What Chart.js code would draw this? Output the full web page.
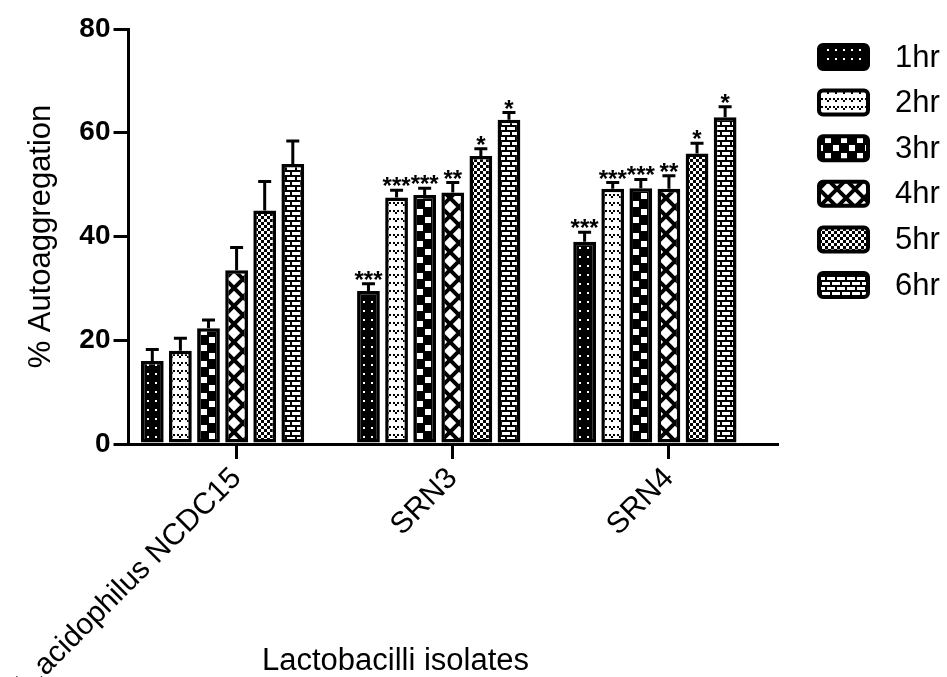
<!DOCTYPE html>
<html>
<head>
<meta charset="utf-8">
<title>Autoaggregation</title>
<script src="https://cdn.jsdelivr.net/npm/chart.js@4.4.1/dist/chart.umd.min.js"></script>
<style>
  html, body { margin: 0; padding: 0; background: #fff; }
  #wrap { width: 947px; height: 677px; }
</style>
</head>
<body>
<div id="wrap"><canvas id="myChart"></canvas></div>
<script>
const isolates = ['L.acidophilus NCDC15', 'SRN3', 'SRN4'];
const hours = ['1hr', '2hr', '3hr', '4hr', '5hr', '6hr'];

// mean % autoaggregation for each isolate
const hr1 = [16.0, 29.5, 39.0];
const hr2 = [18.0, 47.5, 49.2];
const hr3 = [22.3, 48.0, 49.3];
const hr4 = [33.5, 48.5, 49.2];
const hr5 = [45.0, 55.5, 56.0];
const hr6 = [54.0, 62.5, 63.0];

// upper error bar (SEM)
const err1 = [2.2, 1.4, 1.8];
const err2 = [2.4, 1.4, 1.2];
const err3 = [1.6, 1.3, 1.7];
const err4 = [4.4, 1.9, 2.5];
const err5 = [5.6, 1.4, 2.0];
const err6 = [4.4, 1.4, 2.0];

// significance marks
const sig1 = ['', '***', '***'];
const sig2 = ['', '***', '***'];
const sig3 = ['', '***', '***'];
const sig4 = ['', '**', '**'];
const sig5 = ['', '*', '*'];
const sig6 = ['', '*', '*'];

const FONT = "'Liberation Sans', Arial, sans-serif";
Chart.defaults.font.family = FONT;
Chart.defaults.color = '#000';

function makePattern(w, h, paint) {
  const c = document.createElement('canvas');
  c.width = w;
  c.height = h;
  const g = c.getContext('2d');
  paint(g, w, h);
  return g.createPattern(c, 'repeat');
}

// black with white dots
const pat1 = makePattern(8, 9, (g, w, h) => {
  g.fillStyle = '#000'; g.fillRect(0, 0, w, h);
  g.fillStyle = '#fff'; g.fillRect(3, 4, 2, 2);
});
// white with small black chevrons
const pat2 = makePattern(8, 8, (g, w, h) => {
  g.fillStyle = '#fff'; g.fillRect(0, 0, w, h);
  g.fillStyle = '#000';
  g.fillRect(1, 2, 2, 2); g.fillRect(5, 2, 2, 2); g.fillRect(3, 4, 2, 2);
});
// large staggered blocks
const pat3 = makePattern(16, 16, (g, w, h) => {
  g.fillStyle = '#000'; g.fillRect(0, 0, w, h);
  g.fillStyle = '#fff';
  g.fillRect(1, 1, 6, 6); g.fillRect(9, 9, 6, 6);
});
// diagonal cross
const pat4 = makePattern(18, 18, (g, w, h) => {
  g.fillStyle = '#fff'; g.fillRect(0, 0, w, h);
  g.strokeStyle = '#000'; g.lineWidth = 4;
  for (let k = -1; k <= 1; k++) {
    g.beginPath();
    g.moveTo(k * w, 0); g.lineTo(k * w + w, h);
    g.moveTo(k * w + w, 0); g.lineTo(k * w, h);
    g.stroke();
  }
});
// fine checkerboard
const pat5 = makePattern(6, 6, (g, w, h) => {
  g.fillStyle = '#000'; g.fillRect(0, 0, w, h);
  g.fillStyle = '#fff';
  g.fillRect(0, 0, 3, 3); g.fillRect(3, 3, 3, 3);
});
// bricks
const pat6 = makePattern(10, 10, (g, w, h) => {
  g.fillStyle = '#fff'; g.fillRect(0, 0, w, h);
  g.fillStyle = '#000';
  g.fillRect(0, 0, w, 2); g.fillRect(0, 5, w, 2);
  g.fillRect(0, 2, 2, 3); g.fillRect(5, 7, 2, 3);
});

const means = [hr1, hr2, hr3, hr4, hr5, hr6];
const errors = [err1, err2, err3, err4, err5, err6];
const stars = [sig1, sig2, sig3, sig4, sig5, sig6];
const fills = [pat1, pat2, pat3, pat4, pat5, pat6];

const datasets = hours.map((name, i) => ({
  label: name,
  data: means[i],
  errors: errors[i],
  stars: stars[i],
  backgroundColor: fills[i],
  borderColor: '#000',
  borderWidth: 3.5,
  borderSkipped: false
}));
// empty slot so the tick sits under the 4th bar of each group
datasets.push({ label: '', data: [null, null, null], backgroundColor: 'rgba(0,0,0,0)', borderWidth: 0 });

const errorBars = {
  id: 'errorBars',
  afterDatasetsDraw(chart) {
    const { ctx, scales: { y } } = chart;
    ctx.save();
    ctx.strokeStyle = '#000';
    ctx.fillStyle = '#000';
    ctx.lineWidth = 3;
    chart.data.datasets.forEach((ds, i) => {
      if (!ds.errors) return;
      chart.getDatasetMeta(i).data.forEach((bar, j) => {
        const top = y.getPixelForValue(ds.data[j] + ds.errors[j]);
        ctx.beginPath();
        ctx.moveTo(bar.x, bar.y);
        ctx.lineTo(bar.x, top);
        ctx.moveTo(bar.x - 6.5, top);
        ctx.lineTo(bar.x + 6.5, top);
        ctx.stroke();
        if (ds.stars[j]) {
          ctx.font = 'bold 24px ' + FONT;
          ctx.textAlign = 'center';
          ctx.textBaseline = 'alphabetic';
          ctx.fillText(ds.stars[j], bar.x, top + 4);
        }
      });
    });
    ctx.restore();
  }
};

const sideLegend = {
  id: 'sideLegend',
  afterDraw(chart) {
    const { ctx, chartArea } = chart;
    const x0 = chartArea.right + 40;
    let yc = chartArea.top + 28;
    ctx.save();
    hours.forEach((name, i) => {
      ctx.beginPath();
      if (ctx.roundRect) ctx.roundRect(x0 + 2, yc - 12, 49, 24, 4);
      else ctx.rect(x0 + 2, yc - 12, 49, 24);
      ctx.fillStyle = chart.data.datasets[i].backgroundColor;
      ctx.fill();
      ctx.lineWidth = 4;
      ctx.strokeStyle = '#000';
      ctx.stroke();
      ctx.fillStyle = '#000';
      ctx.font = '31px ' + FONT;
      ctx.textAlign = 'left';
      ctx.textBaseline = 'middle';
      ctx.fillText(name, x0 + 78, yc + 1);
      yc += 45.6;
    });
    ctx.restore();
  }
};

const xTitle = {
  id: 'xTitle',
  afterDraw(chart) {
    const { ctx, chartArea } = chart;
    ctx.save();
    ctx.fillStyle = '#000';
    ctx.font = '31px ' + FONT;
    ctx.textAlign = 'center';
    ctx.textBaseline = 'middle';
    ctx.fillText('Lactobacilli isolates', chartArea.left + 267, chart.height - 16);
    ctx.restore();
  }
};

const ctx = document.getElementById('myChart');
const chart = new Chart(ctx, {
  type: 'bar',
  data: { labels: isolates, datasets: datasets },
  options: {
    responsive: true,
    maintainAspectRatio: false,
    animation: false,
    categoryPercentage: 0.91,
    barPercentage: 0.81,
    layout: { padding: { top: 29, right: 170, bottom: 0, left: 0 } },
    plugins: {
      legend: { display: false },
      tooltip: { enabled: false }
    },
    scales: {
      x: {
        grid: { display: true, offset: false, drawOnChartArea: false, tickLength: 15, lineWidth: 3, color: '#000' },
        border: { display: true, width: 3, color: '#000' },
        ticks: { autoSkip: false, minRotation: 45, maxRotation: 45, padding: 2, font: { size: 30 } },
        afterFit(scale) { scale.height = 233; }
      },
      y: {
        min: 0,
        max: 80,
        grid: { display: true, drawOnChartArea: false, tickLength: 15, lineWidth: 3, color: '#000' },
        border: { display: true, width: 3, color: '#000' },
        ticks: { stepSize: 20, padding: 3, font: { size: 28, weight: 'bold' } },
        title: { display: true, text: '% Autoaggregation', font: { size: 31 }, padding: { top: 14, bottom: 0 } },
        afterFit(scale) { scale.width = 120; }
      }
    }
  },
  plugins: [errorBars, sideLegend, xTitle]
});
</script>
</body>
</html>
